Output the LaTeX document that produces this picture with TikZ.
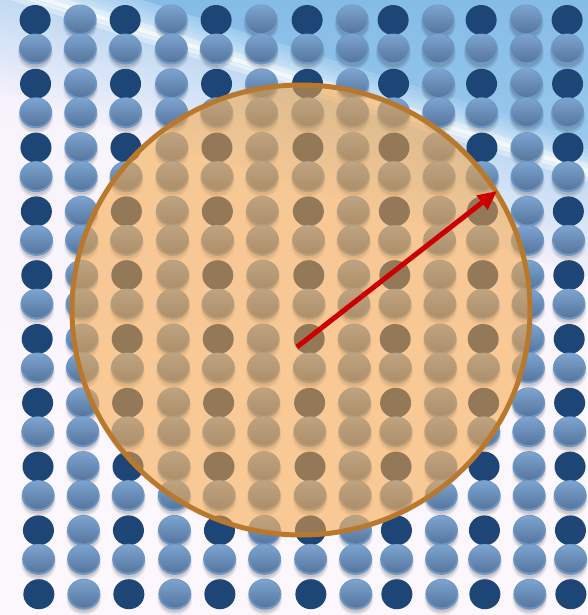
\documentclass[tikz,border=0pt]{standalone}
\usetikzlibrary{arrows.meta}
\definecolor{darkdot}{HTML}{1D4677}
\definecolor{rimdot}{HTML}{6E97C5}
\definecolor{topdot}{HTML}{7CA4D0}
\definecolor{botdot}{HTML}{56769E}
\definecolor{skyblue}{HTML}{80B9E5}
\definecolor{skylight}{HTML}{9ECBEE}
\definecolor{belowblue}{HTML}{BDD8F2}
\definecolor{bgmid}{HTML}{F1F0FB}
\definecolor{bgbot}{HTML}{FCF6FD}
\definecolor{discfill}{HTML}{F6A440}
\definecolor{discedge}{HTML}{B8792F}
\definecolor{arrowred}{HTML}{CC0000}
\pgfdeclareverticalshading{bgsh}{100bp}{color(0bp)=(bgbot); color(40bp)=(bgbot); color(100bp)=(bgmid)}
\newcommand\mkshadow[2]{%
  \fill[black,opacity=0.06] (#1,#2+4.5) ellipse [x radius=17.5,y radius=16.5];
  \fill[black,opacity=0.07] (#1,#2+4) ellipse [x radius=16.5,y radius=15.5];
  \fill[black,opacity=0.08] (#1,#2+3.5) ellipse [x radius=15.5,y radius=14.5];}
\newcommand\mklight[2]{%
  \fill[rimdot] (#1,#2) ellipse [x radius=16.5,y radius=15.5];
  \shade[top color=topdot,bottom color=botdot] (#1,#2-0.8) ellipse [x radius=15,y radius=14];}
\newcommand\mkdark[2]{\fill[darkdot] (#1,#2) ellipse [x radius=15.5,y radius=15];}
\begin{document}
\begin{tikzpicture}[x=1pt,y=-1pt,
  disc/.style={draw=discedge,line width=5pt,fill=discfill,fill opacity=0.55,draw opacity=1},
  radiusarrow/.style={draw=arrowred,line width=5pt,-{Triangle[length=19pt,width=17pt]}}]
\useasboundingbox (0,0) rectangle (587,615);
% background
\shade[shading=bgsh] (0,0) rectangle (587,615);
\foreach \d in {0,4,...,100}{
  \pgfmathtruncatemacro\p{100*\d/100}
  \draw[line width=4.4pt,color=bgmid!\p!belowblue] (-5,{-14+\d+2}) -- (592,{174+\d+2});
}
\shade[top color=skyblue,bottom color=skylight] (-5,-30) -- (592,-30) -- (592,175.5) -- (-5,-12.5) -- cycle;
\foreach \d in {0,4,...,28}{
  \pgfmathtruncatemacro\p{100*\d/28}
  \draw[line width=4.4pt,color=skylight!\p!white!60!skylight] (-5,{-14-\d-2}) -- (592,{174-\d-2});
}
\draw[white,opacity=0.35,line width=18pt] (-5,-14) -- (592,174);
\draw[white,opacity=0.5,line width=8pt] (-5,-14) -- (592,174);
% shadows of light dots
\foreach \k in {0,...,9}{
  \pgfmathsetmacro\yy{20+63.8*\k}
  \foreach \x [count=\i] in {35,80,125,171,216,261,307,352,393,438,481,526,567}{
    \pgfmathsetmacro\xx{\x+0.0065*\yy}
    \ifodd\i\else\mkshadow{\xx}{\yy}\fi
  }
}
\foreach \k in {0,...,8}{
  \pgfmathsetmacro\yy{49+63.8*\k}
  \foreach \x in {35,80,125,171,216,261,307,352,393,438,481,526,567}{
    \pgfmathsetmacro\xx{\x+0.0065*\yy}
    \mkshadow{\xx}{\yy}
  }
}
% dots
\foreach \k in {0,...,9}{
  \pgfmathsetmacro\yy{20+63.8*\k}
  \foreach \x [count=\i] in {35,80,125,171,216,261,307,352,393,438,481,526,567}{
    \pgfmathsetmacro\xx{\x+0.0065*\yy}
    \ifodd\i\mkdark{\xx}{\yy}\else\mklight{\xx}{\yy}\fi
  }
}
\foreach \k in {0,...,8}{
  \pgfmathsetmacro\yy{49+63.8*\k}
  \foreach \x in {35,80,125,171,216,261,307,352,393,438,481,526,567}{
    \pgfmathsetmacro\xx{\x+0.0065*\yy}
    \mklight{\xx}{\yy}
  }
}
% disc and radius arrow
\path[disc] (301,310) ellipse [x radius=229,y radius=225];
\coordinate (start) at (297,347);
\coordinate (tip) at (497,191);
\draw[radiusarrow] (start) -- (tip);
\end{tikzpicture}
\end{document}
